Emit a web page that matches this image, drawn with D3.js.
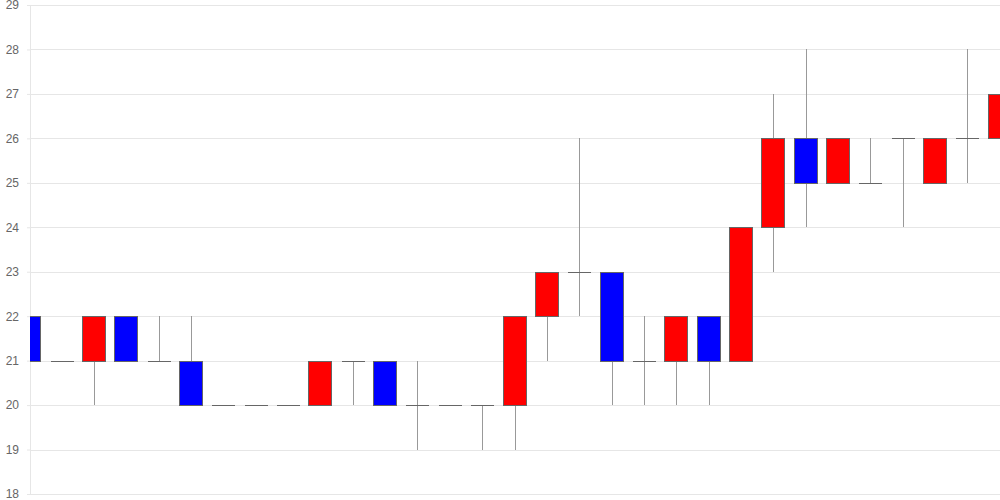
<!DOCTYPE html>
<html>
<head>
<meta charset="utf-8">
<script src="https://cdn.jsdelivr.net/npm/d3@7"></script>
<style>
  body { margin: 0; background: #fff; }
  svg { display: block; font-family: "Liberation Sans", Arial, sans-serif; }
</style>
</head>
<body>
<svg id="chart" width="1000" height="500"></svg>
<script>
// one entry per session
var days  = d3.range(1, 32).map(String);
var open  = [22,21,21,22,21,21,20,20,20,20,21,21,20,20,20,20,22,23,23,21,21,22,21,24,26,25,25,26,25,26,26];
var close = [21,21,22,21,21,20,20,20,20,21,21,20,20,20,20,22,23,23,21,21,22,21,24,26,25,26,25,26,26,26,27];
var high  = [22,21,22,22,22,22,20,20,20,21,21,21,21,20,20,22,23,26,23,22,22,22,24,27,28,26,26,26,26,28,27];
var low   = [20,21,20,21,21,20,20,20,20,20,20,20,19,20,19,19,21,22,20,20,20,20,21,23,24,25,25,24,25,25,26];
var yTicks = [18,19,20,21,22,23,24,25,26,27,28,29];

var svg = d3.select("#chart"),
    margin = {top: 5, right: 0, bottom: 6, left: 30},
    width = +svg.attr("width") - margin.left - margin.right,
    height = +svg.attr("height") - margin.top - margin.bottom;

var data = days.map(function(d, i) {
  return {day: d, o: open[i], c: close[i], h: high[i], l: low[i]};
});

var x = d3.scalePoint().domain(days).range([0, width]);
var y = d3.scaleLinear().domain([18, 29]).range([height, 0]);
var bw = 23;

var g = svg.append("g")
  .attr("transform", "translate(" + margin.left + "," + margin.top + ")");

g.append("clipPath").attr("id", "plot")
  .append("rect").attr("width", width).attr("height", height + 1);

// grid
g.append("g")
  .selectAll("line")
  .data(yTicks)
  .enter().append("line")
    .attr("x1", 0).attr("x2", width)
    .attr("y1", function(d) { return Math.round(y(d)) + 0.5; })
    .attr("y2", function(d) { return Math.round(y(d)) + 0.5; })
    .attr("stroke", "#e6e6e6");

var axis = g.append("g")
  .call(d3.axisLeft(y).tickValues(yTicks).tickSize(3).tickPadding(8).tickFormat(d3.format("d")));
axis.select(".domain").attr("stroke", "#e6e6e6").attr("d", "M0.5," + height + "V0");
axis.selectAll(".tick line").attr("stroke", "#e6e6e6");
axis.selectAll(".tick text").attr("fill", "#666").style("font-size", "12px");

var candles = g.append("g").attr("clip-path", "url(#plot)")
  .selectAll(".candle")
  .data(data)
  .enter().append("g")
    .attr("class", "candle")
    .attr("transform", function(d) { return "translate(" + Math.floor(x(d.day)) + ",0)"; });

// wicks
candles.append("line")
  .attr("x1", 0.5).attr("x2", 0.5)
  .attr("y1", function(d) { return Math.round(y(d.h)); })
  .attr("y2", function(d) { return Math.round(y(d.l)); })
  .attr("stroke", "#999");

// bodies
candles.filter(function(d) { return d.o !== d.c; })
  .append("rect")
    .attr("x", -11.5)
    .attr("width", bw)
    .attr("y", function(d) { return Math.round(y(Math.max(d.o, d.c))) + 0.5; })
    .attr("height", function(d) { return Math.round(y(Math.min(d.o, d.c))) - Math.round(y(Math.max(d.o, d.c))); })
    .attr("fill", function(d) { return d.c > d.o ? "#ff0000" : "#0000ff"; })
    .attr("stroke", "#666");

// doji
candles.filter(function(d) { return d.o === d.c; })
  .append("line")
    .attr("x1", -11).attr("x2", 12)
    .attr("y1", function(d) { return Math.round(y(d.o)) + 0.5; })
    .attr("y2", function(d) { return Math.round(y(d.o)) + 0.5; })
    .attr("stroke", "#666");
</script>
</body>
</html>
